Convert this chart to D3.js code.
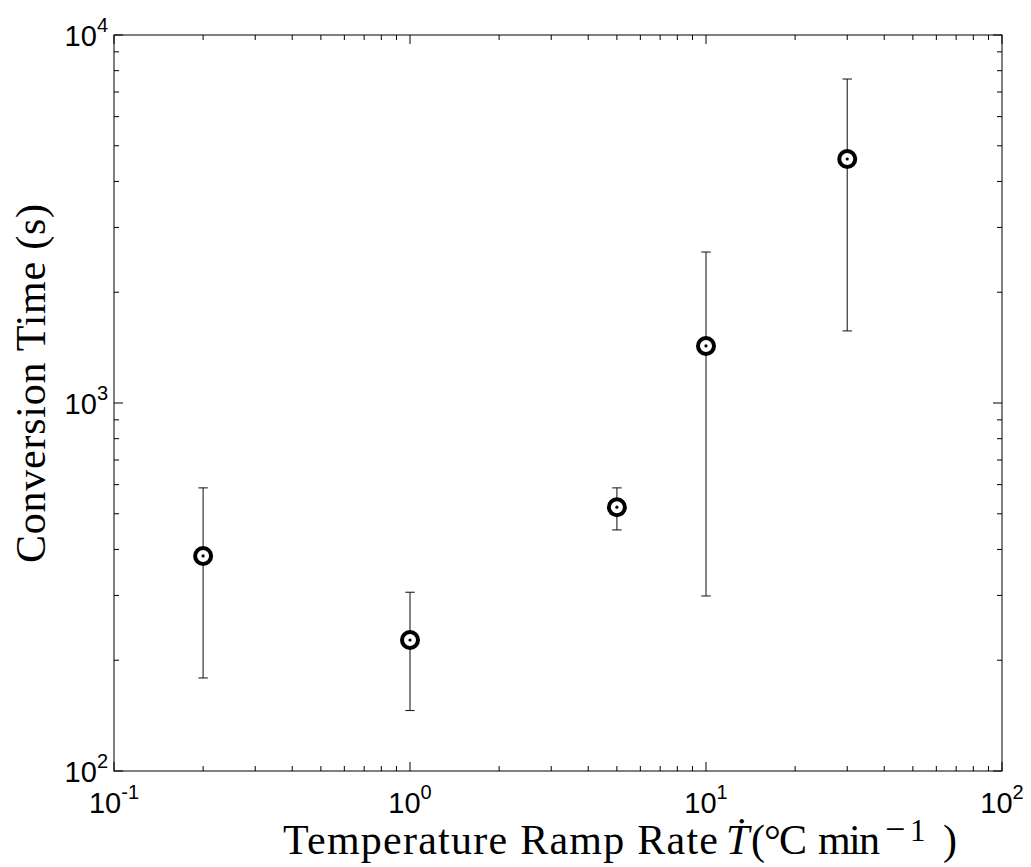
<!DOCTYPE html>
<html>
<head>
<meta charset="utf-8">
<script src="https://cdn.jsdelivr.net/npm/d3@7"></script>
<style>
  body { margin: 0; background: #fff; }
</style>
</head>
<body>
<div id="vis"></div>
<script>
// datos
const rates = [0.2, 1, 5, 10, 30];            // °C/min
const times = [384, 227, 521, 1429, 4603];    // s
const lower = [179, 146, 452, 299, 1570];
const upper = [588, 306, 588, 2572, 7592];
const xExps = [-1, 0, 1, 2];
const yExps = [2, 3, 4];

const WIDTH = 1031;
const HEIGHT = 867;
const margin = { top: 35, bottom: 96, left: 114, right: 29 };
const WIDTHVIS = WIDTH - margin.left - margin.right;
const HEIGHTVIS = HEIGHT - margin.top - margin.bottom;

const SVG = d3.select("#vis").append("svg")
  .attr("width", WIDTH).attr("height", HEIGHT);

const g = SVG.append("g")
  .attr("transform", `translate(${margin.left} ${margin.top})`);

const escalaX = d3.scaleLog().domain([0.1, 100]).range([0, WIDTHVIS]);
const escalaY = d3.scaleLog().domain([100, 10000]).range([HEIGHTVIS, 0]);

const isMajor = (v) => Math.abs(Math.log10(v) - Math.round(Math.log10(v))) < 1e-9;
const tickLen = (v) => (isMajor(v) ? 9 : 5);

// ticks hacia adentro en los cuatro lados
const ticksG = g.append("g").attr("stroke", "#000").attr("stroke-width", 1);
escalaX.ticks().forEach((v) => {
  const x = escalaX(v);
  ticksG.append("line").attr("x1", x).attr("x2", x).attr("y1", HEIGHTVIS).attr("y2", HEIGHTVIS - tickLen(v));
  ticksG.append("line").attr("x1", x).attr("x2", x).attr("y1", 0).attr("y2", tickLen(v));
});
escalaY.ticks().forEach((v) => {
  const y = escalaY(v);
  ticksG.append("line").attr("x1", 0).attr("x2", tickLen(v)).attr("y1", y).attr("y2", y);
  ticksG.append("line").attr("x1", WIDTHVIS).attr("x2", WIDTHVIS - tickLen(v)).attr("y1", y).attr("y2", y);
});

g.append("rect")
  .attr("width", WIDTHVIS).attr("height", HEIGHTVIS)
  .attr("fill", "none").attr("stroke", "#000").attr("stroke-width", 1);

// etiquetas 10^n
const tickFont = "'Liberation Sans', Arial, sans-serif";
xExps.forEach((e) => {
  const t = g.append("text")
    .attr("x", escalaX(Math.pow(10, e)))
    .attr("y", HEIGHTVIS + 42)
    .attr("text-anchor", "middle")
    .attr("font-family", tickFont).attr("font-size", 29);
  t.append("tspan").text("10");
  t.append("tspan").attr("font-size", 20).attr("dy", -14).text(e < 0 ? "-" + (-e) : e);
});
yExps.forEach((e) => {
  const t = g.append("text")
    .attr("x", -6)
    .attr("y", escalaY(Math.pow(10, e)) + 11)
    .attr("text-anchor", "end")
    .attr("font-family", tickFont).attr("font-size", 29);
  t.append("tspan").text("10");
  t.append("tspan").attr("font-size", 20).attr("dy", -14).text(e);
});

// barras de error
const puntos = rates.map((r, i) => ({ r, t: times[i], lo: lower[i], hi: upper[i] }));
const err = g.append("g").attr("stroke", "#222").attr("stroke-width", 1.1);
puntos.forEach((d) => {
  const x = escalaX(d.r);
  err.append("line").attr("x1", x).attr("x2", x).attr("y1", escalaY(d.lo)).attr("y2", escalaY(d.hi));
  [d.lo, d.hi].forEach((v) => {
    err.append("line").attr("x1", x - 4.7).attr("x2", x + 4.7).attr("y1", escalaY(v)).attr("y2", escalaY(v));
  });
});

// marcadores
g.selectAll("circle.mk").data(puntos).join("circle").attr("class", "mk")
  .attr("cx", (d) => escalaX(d.r)).attr("cy", (d) => escalaY(d.t))
  .attr("r", 8).attr("fill", "#fff").attr("stroke", "#000").attr("stroke-width", 4);
g.selectAll("circle.dot").data(puntos).join("circle").attr("class", "dot")
  .attr("cx", (d) => escalaX(d.r)).attr("cy", (d) => escalaY(d.t))
  .attr("r", 1.6).attr("fill", "#000");

// titulos de ejes
const serif = "'Liberation Serif', 'Times New Roman', serif";
const xt = SVG.append("text")
  .attr("y", 854)
  .attr("font-family", serif).attr("font-size", 42);
xt.append("tspan").attr("x", 283).attr("textLength", 435).attr("lengthAdjust", "spacing")
  .text("Temperature Ramp Rate");
xt.append("tspan").attr("x", 726).attr("font-style", "italic").text("Ṫ");
xt.append("tspan").attr("x", 751).text("(");
xt.append("tspan").attr("x", 764).text("°");
xt.append("tspan").attr("x", 779).text("C");
xt.append("tspan").attr("x", 818).attr("textLength", 62).attr("lengthAdjust", "spacing").text("min");
xt.append("tspan").attr("x", 885).attr("font-size", 36).attr("dy", -13).text("−");
xt.append("tspan").attr("x", 910).attr("font-size", 31).text("1");
xt.append("tspan").attr("x", 943).attr("dy", 13).text(")");

SVG.append("text")
  .attr("transform", "translate(45 563) rotate(-90)")
  .attr("font-family", serif).attr("font-size", 42)
  .attr("textLength", 359).attr("lengthAdjust", "spacing")
  .text("Conversion Time (s)");
</script>
</body>
</html>
